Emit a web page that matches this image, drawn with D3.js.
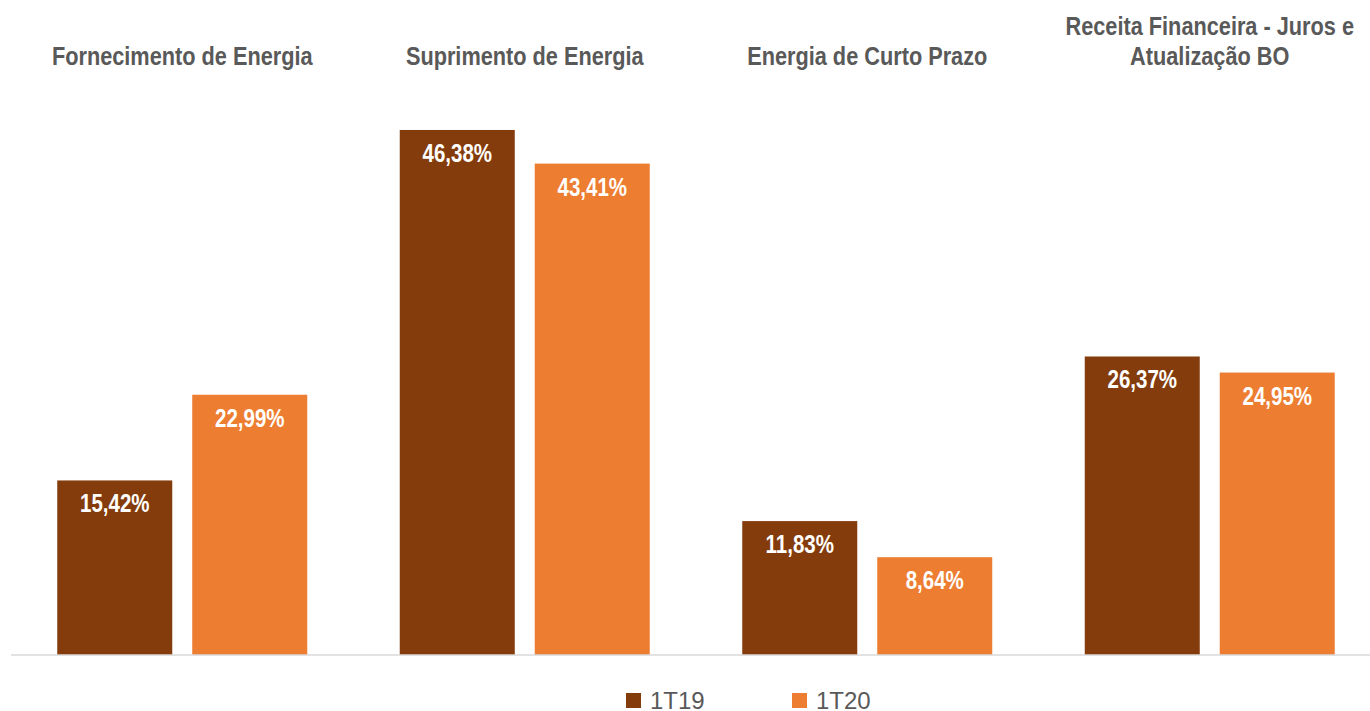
<!DOCTYPE html>
<html>
<head>
<meta charset="utf-8">
<script src="https://cdn.jsdelivr.net/npm/d3@7"></script>
<style>
  body { margin: 0; background: #fff; }
  svg { display: block; }
</style>
</head>
<body>
<div id="chart"></div>
<script>
var categories = [
  ["Fornecimento de Energia"],
  ["Suprimento de Energia"],
  ["Energia de Curto Prazo"],
  ["Receita Financeira - Juros e", "Atualização BO"]
];
var series = ["1T19", "1T20"];
var values1T19 = [15.42, 46.38, 11.83, 26.37];
var values1T20 = [22.99, 43.41, 8.64, 24.95];
var colors = ["#843C0C", "#ED7D31"];

var width = 1370, height = 711;
var font = "'Liberation Sans', Arial, sans-serif";
var squeeze = 0.82; // no narrow font installed, so squeeze it by hand

var data = categories.map(function(c, i) {
  return { name: c.join(" "), lines: c, vals: [values1T19[i], values1T20[i]] };
});

var svg = d3.select("#chart").append("svg")
    .attr("width", width)
    .attr("height", height);

var x0 = d3.scaleBand()
    .domain(data.map(function(d) { return d.name; }))
    .range([11, 1381]);

var x1 = d3.scaleBand()
    .domain(series)
    .range([46.25, 296.25])
    .paddingInner(0.148);

var y = d3.scaleLinear()
    .domain([0, 50])
    .range([655, 89]);

var group = svg.selectAll(".grp")
    .data(data)
  .enter().append("g")
    .attr("class", "grp")
    .attr("transform", function(d) { return "translate(" + x0(d.name) + ",0)"; });

group.selectAll("rect")
    .data(function(d) { return d.vals.map(function(v, i) { return { s: series[i], v: v, i: i }; }); })
  .enter().append("rect")
    .attr("x", function(d) { return x1(d.s); })
    .attr("y", function(d) { return y(d.v); })
    .attr("width", x1.bandwidth())
    .attr("height", function(d) { return y(0) - y(d.v); })
    .attr("fill", function(d) { return colors[d.i]; });

// value labels
group.selectAll(".lbl")
    .data(function(d) { return d.vals.map(function(v, i) { return { s: series[i], v: v }; }); })
  .enter().append("text")
    .attr("class", "lbl")
    .attr("transform", function(d) {
      return "translate(" + (x1(d.s) + x1.bandwidth() / 2) + "," + (y(d.v) + 32) + ") scale(" + squeeze + ",1)";
    })
    .attr("text-anchor", "middle")
    .style("font-family", font)
    .style("font-weight", "bold")
    .style("font-size", "25px")
    .style("fill", "#fff")
    .text(function(d) { return d.v.toFixed(2).replace(".", ",") + "%"; });

// category titles
group.append("text")
    .attr("transform", "translate(" + (x0.bandwidth() / 2) + ",65) scale(" + squeeze + ",1)")
    .attr("text-anchor", "middle")
    .style("font-family", font)
    .style("font-weight", "bold")
    .style("font-size", "26.5px")
    .style("fill", "#595959")
    .each(function(d) {
      var t = d3.select(this);
      var n = d.lines.length;
      d.lines.forEach(function(l, k) {
        t.append("tspan")
          .attr("x", 0)
          .attr("y", -(n - 1 - k) * 30)
          .text(l);
      });
    });

// baseline
var axis = svg.append("g")
    .attr("transform", "translate(0," + y(0) + ")")
    .call(d3.axisBottom(x0).tickSize(0).tickFormat(""));
axis.select(".domain").attr("stroke", "#d9d9d9").attr("stroke-width", 1.5)
    .attr("d", "M11,0H1370");

// legend
var legX = [626, 792];
var legend = svg.selectAll(".leg")
    .data(series)
  .enter().append("g")
    .attr("class", "leg")
    .attr("transform", function(d, i) { return "translate(" + legX[i] + ",693)"; });
legend.append("rect")
    .attr("width", 15)
    .attr("height", 15)
    .attr("fill", function(d, i) { return colors[i]; });
legend.append("text")
    .attr("x", 24)
    .attr("y", 16)
    .style("font-family", font)
    .style("font-size", "24px")
    .style("fill", "#595959")
    .text(function(d) { return d; });
</script>
</body>
</html>
